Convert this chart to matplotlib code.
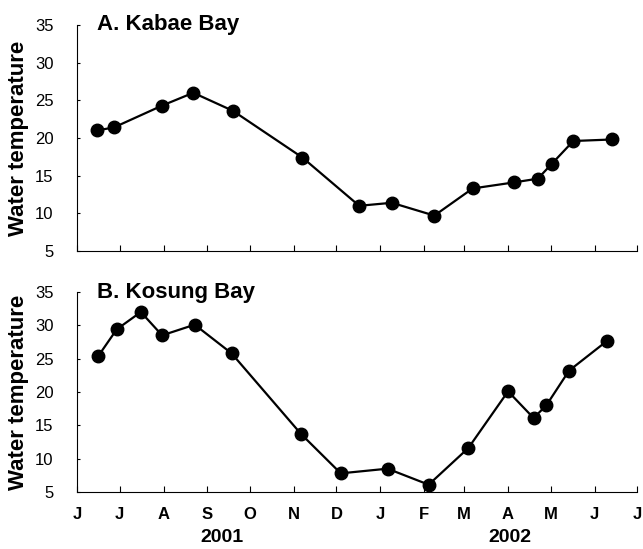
import pandas as pd
import matplotlib
matplotlib.use("Agg")
import matplotlib.pyplot as plt

plt.rcParams['font.family'] = ['Liberation Sans', 'DejaVu Sans']

# sampling dates and water temperature
kabae_dates = ['2001-06-15', '2001-06-27', '2001-07-31', '2001-08-22', '2001-09-19',
               '2001-11-07', '2001-12-17', '2002-01-09', '2002-02-08', '2002-03-07',
               '2002-04-05', '2002-04-22', '2002-05-02', '2002-05-17', '2002-06-13']
kabae_temp = [21.0, 21.4, 24.3, 26.0, 23.6, 17.4, 11.0, 11.4, 9.7, 13.3,
              14.1, 14.6, 16.6, 19.6, 19.8]

kosung_dates = ['2001-06-16', '2001-06-29', '2001-07-16', '2001-07-31', '2001-08-23',
                '2001-09-18', '2001-11-06', '2001-12-04', '2002-01-06', '2002-02-04',
                '2002-03-04', '2002-04-01', '2002-04-19', '2002-04-28', '2002-05-14',
                '2002-06-10']
kosung_temp = [25.4, 29.4, 32.0, 28.5, 30.1, 25.8, 13.7, 7.8, 8.5, 6.1,
               11.6, 20.1, 16.1, 18.0, 23.2, 27.7]

month_starts = pd.date_range('2001-06-01', '2002-07-01', freq='MS')
month_labels = ['J', 'J', 'A', 'S', 'O', 'N', 'D', 'J', 'F', 'M', 'A', 'M', 'J', 'J']

panels = [('A. Kabae Bay', kabae_dates, kabae_temp),
          ('B. Kosung Bay', kosung_dates, kosung_temp)]

fig = plt.figure(figsize=(6.43, 5.49), dpi=100)
ax_a = fig.add_axes([0.1198, 0.5428, 0.8710, 0.4117])
ax_b = fig.add_axes([0.1198, 0.1038, 0.8710, 0.3643])

for ax, (title, dates, temp) in zip([ax_a, ax_b], panels):
    ax.plot(pd.to_datetime(dates), temp, color='black', lw=1.6,
            marker='o', ms=9, mfc='black', mec='black', clip_on=False)
    ax.set_xlim(month_starts[0], month_starts[-1])
    ax.set_ylim(5, 35)
    ax.set_yticks(range(5, 36, 5))
    ax.set_xticks(month_starts)
    ax.spines['top'].set_visible(False)
    ax.spines['right'].set_visible(False)
    ax.tick_params(axis='x', direction='in', length=4, width=0.8)
    ax.tick_params(axis='y', direction='in', length=2, width=0.8, pad=17, labelsize=12)
    ax.set_ylabel('Water temperature', fontsize=16, fontweight='bold', labelpad=4)
    ax.text(0.035, 1.0, title, transform=ax.transAxes, fontsize=16,
            fontweight='bold', va='center', ha='left')

ax_a.set_xticklabels([])
ax_b.set_xticklabels(month_labels, fontsize=12, fontweight='bold')
ax_b.tick_params(axis='x', pad=11)

fig.text(222 / 643, 1 - 537 / 549, '2001', fontsize=14, fontweight='bold',
         ha='center', va='center')
fig.text(510 / 643, 1 - 537 / 549, '2002', fontsize=14, fontweight='bold',
         ha='center', va='center')

fig.savefig('out.png', dpi=100)
